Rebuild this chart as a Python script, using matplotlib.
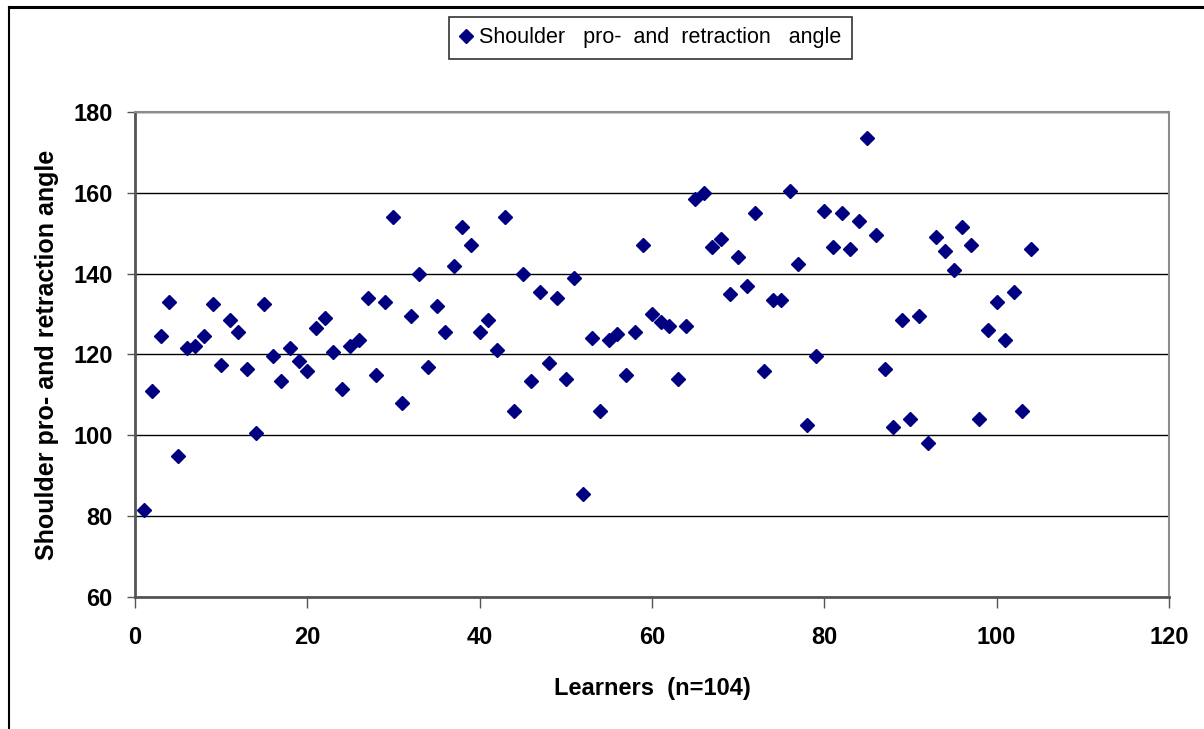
import matplotlib
matplotlib.use("Agg")
import matplotlib.pyplot as plt
from matplotlib.lines import Line2D

# Shoulder pro-/retraction angle per learner
learners = list(range(1, 105))
angles = [
    81.5, 111, 124.5, 133, 95, 121.5, 122, 124.5, 132.5, 117.5,
    128.5, 125.5, 116.5, 100.5, 132.5, 119.5, 113.5, 121.5, 118.5, 116,
    126.5, 129, 120.5, 111.5, 122, 123.5, 134, 115, 133, 154,
    108, 129.5, 140, 117, 132, 125.5, 142, 151.5, 147, 125.5,
    128.5, 121, 154, 106, 140, 113.5, 135.5, 118, 134, 114,
    139, 85.5, 124, 106, 123.5, 125, 115, 125.5, 147, 130,
    128, 127, 114, 127, 158.5, 160, 146.5, 148.5, 135, 144,
    137, 155, 116, 133.5, 133.5, 160.5, 142.5, 102.5, 119.5, 155.5,
    146.5, 155, 146, 153, 173.5, 149.5, 116.5, 102, 128.5, 104,
    129.5, 98, 149, 145.5, 141, 151.5, 147, 104, 126, 133,
    123.5, 135.5, 106, 146,
]
x_ticks = [0, 20, 40, 60, 80, 100, 120]
y_ticks = [60, 80, 100, 120, 140, 160, 180]

plt.rcParams["font.family"] = ["Liberation Sans", "DejaVu Sans"]

fig = plt.figure(figsize=(12.04, 7.29), dpi=100)
ax = fig.add_axes([0.1121, 0.1811, 0.8588, 0.6653])

ax.plot(learners, angles, linestyle="none", marker="D", ms=6.8,
        color="#000080", label="Shoulder   pro-  and  retraction   angle")

ax.set_xlim(0, 120)
ax.set_ylim(60, 180)
ax.set_xticks(x_ticks)
ax.set_yticks(y_ticks)
ax.yaxis.grid(True, color="black", linewidth=1.0)
ax.set_axisbelow(True)

for side in ["left", "bottom"]:
    ax.spines[side].set_color("#555555")
    ax.spines[side].set_linewidth(2)
for side in ["top", "right"]:
    ax.spines[side].set_color("#8c8c8c")
    ax.spines[side].set_linewidth(1.5)

ax.tick_params(axis="y", direction="out", length=6, width=1, color="#555555", pad=10,
               labelsize=17)
ax.tick_params(axis="x", direction="out", length=8, width=1, color="#555555", pad=13,
               labelsize=17)
for lbl in ax.get_xticklabels() + ax.get_yticklabels():
    lbl.set_fontweight("bold")

ax.set_xlabel("Learners  (n=104)", fontsize=17, fontweight="bold", labelpad=20)
ax.set_ylabel("Shoulder pro- and retraction angle", fontsize=18, fontweight="bold",
              labelpad=10)

leg = fig.legend(loc="center", bbox_to_anchor=(0.54, 0.948), fontsize=15.5,
                 frameon=True, fancybox=False, handlelength=0.6, handletextpad=0.3,
                 borderpad=0.5, borderaxespad=0)
leg.get_frame().set_edgecolor("black")
leg.get_frame().set_linewidth(1.2)

# chart area frame (top and left edges)
fig.add_artist(Line2D([9 / 1204, 1.0], [1 - 7 / 729, 1 - 7 / 729],
                      transform=fig.transFigure, color="black", linewidth=2.2))
fig.add_artist(Line2D([9 / 1204, 9 / 1204], [0.0, 1 - 7 / 729],
                      transform=fig.transFigure, color="black", linewidth=1.5))

fig.savefig("out.png", dpi=100)
